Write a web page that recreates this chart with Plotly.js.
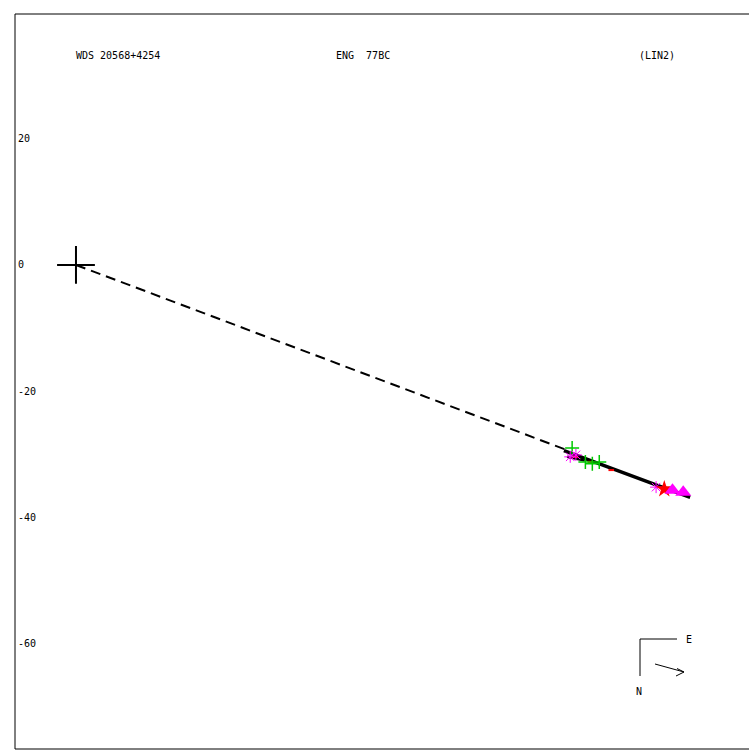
<!DOCTYPE html>
<html>
<head>
<meta charset="utf-8">
<script src="https://cdn.plot.ly/plotly-3.0.1.min.js"></script>
<style>html,body{margin:0;padding:0;background:#fff}#chart{width:750px;height:750px}</style>
</head>
<body>
<div id="chart"></div>
<script>
// ---- data (offsets) ----
const primaryX = [0];
const primaryY = [0];

const nodeLineX = [0, 77.7];          // dashed line from primary to orbit arc start
const nodeLineY = [0, -29.3];

const orbitX = [77.3, 82.0, 87.0, 92.0, 97.3];   // computed orbit arc (thick black)
const orbitY = [-29.4, -31.2, -33.0, -34.9, -36.8];

const orbitX2 = [77.8, 80.6];                      // second short O-C strand
const orbitY2 = [-30.4, -31.0];

const greenX = [78.6, 80.7, 81.8, 82.9];          // micrometer measures (+)
const greenY = [-29.0, -31.2, -31.5, -31.2];

const asterX = [78.3, 79.2, 91.9];                // photographic measures (*)
const asterY = [-30.4, -30.1, -35.2];

const starX = [93.2];                             // red star measure
const starY = [-35.5];

const triX = [94.5, 96.2];                        // speckle measures (triangles)
const triY = [-35.7, -36.0];

const redX = [79.1, 81.5, 84.8];                  // small red O-C residuals
const redY = [-30.4, -31.2, -32.5];

const yTickVals = [20, 0, -20, -40, -60];
const yTickText = ["20", "0", "-20", "-40", "-60"];

const headerTexts = ["WDS 20568+4254", "ENG\u00a0\u00a077BC", "(LIN2)"];

// ---- layout helpers ----
const W = 750, H = 750, L = 15, T = 14, R = 1, B = 1;
const pw = W - L - R, ph = H - T - B;
const px = x => (x - L) / pw;
const py = y => (H - B - y) / ph;

const font = {family: "DejaVu Sans Mono, monospace", size: 10, color: "#000"};

const traces = [
  {x: nodeLineX, y: nodeLineY, mode: "lines", line: {color: "#000", width: 2, dash: "10px,6px"}, hoverinfo: "skip"},
  {x: orbitX, y: orbitY, mode: "lines", line: {color: "#000", width: 3.5}, hoverinfo: "skip"},
  {x: orbitX2, y: orbitY2, mode: "lines", line: {color: "#000", width: 2.5}, hoverinfo: "skip"},
  {x: redX, y: redY, mode: "markers", marker: {symbol: "line-ew-open", size: 4, color: "#ff0000", line: {color: "#ff0000", width: 2}}, hoverinfo: "skip"},
  {x: greenX, y: greenY, mode: "markers", marker: {symbol: "cross-thin-open", size: 10, color: "#00c800", line: {color: "#00c800", width: 1.5}}, hoverinfo: "skip"},
  {x: asterX, y: asterY, mode: "markers", marker: {symbol: "asterisk-open", size: 10, color: "#ff00ff", line: {color: "#ff00ff", width: 1}}, hoverinfo: "skip"},
  {x: starX, y: starY, mode: "markers", marker: {symbol: "star", size: 13, color: "#ff0000", line: {width: 0}}, hoverinfo: "skip"},
  {x: triX, y: triY, mode: "markers", marker: {symbol: "triangle-up", size: 14, color: "#ff00ff", line: {width: 0}}, hoverinfo: "skip"},
  {x: primaryX, y: primaryY, mode: "markers", marker: {symbol: "cross-thin-open", size: 27, color: "#000", line: {color: "#000", width: 2}}, hoverinfo: "skip"}
];

const shapes = [
  // frame
  {type: "line", xref: "paper", yref: "paper", x0: 0, x1: 0, y0: 0, y1: 1, line: {color: "#000", width: 1}},
  {type: "line", xref: "paper", yref: "paper", x0: 0, x1: 1, y0: 1, y1: 1, line: {color: "#000", width: 1}},
  {type: "line", xref: "paper", yref: "paper", x0: 0, x1: 1, y0: 0, y1: 0, line: {color: "#000", width: 1}},
  // compass
  {type: "line", xref: "paper", yref: "paper", x0: px(640), x1: px(677), y0: py(639), y1: py(639), line: {color: "#000", width: 1}},
  {type: "line", xref: "paper", yref: "paper", x0: px(640), x1: px(640), y0: py(639), y1: py(676), line: {color: "#000", width: 1}},
  // motion arrow
  {type: "line", xref: "paper", yref: "paper", x0: px(655), x1: px(684), y0: py(664), y1: py(672), line: {color: "#000", width: 1}},
  {type: "line", xref: "paper", yref: "paper", x0: px(677), x1: px(684), y0: py(668.5), y1: py(672), line: {color: "#000", width: 1}},
  {type: "line", xref: "paper", yref: "paper", x0: px(676), x1: px(684), y0: py(676), y1: py(672), line: {color: "#000", width: 1}}
];

const annotations = [
  {text: headerTexts[0], x: px(74), y: py(55)},
  {text: headerTexts[1], x: px(334), y: py(55)},
  {text: headerTexts[2], x: px(637), y: py(55)},
  {text: "E", x: px(684), y: py(639)},
  {text: "N", x: px(634), y: py(691)}
].map(a => Object.assign({xref: "paper", yref: "paper", xanchor: "left", yanchor: "middle", showarrow: false, font: font}, a));

const layout = {
  width: W, height: H,
  margin: {l: L, r: R, t: T, b: B, pad: 0},
  paper_bgcolor: "#fff", plot_bgcolor: "#fff",
  showlegend: false,
  xaxis: {range: [-9.66, 106.62], showgrid: false, zeroline: false, showticklabels: false, ticks: "", showline: false, fixedrange: true},
  yaxis: {range: [-76.69, 39.76], showgrid: false, zeroline: false, tickvals: yTickVals, ticktext: yTickText,
          ticklabelposition: "inside", ticks: "", showline: false, tickfont: font, fixedrange: true},
  shapes: shapes,
  annotations: annotations
};

Plotly.newPlot("chart", traces, layout, {staticPlot: true, displayModeBar: false});
</script>
</body>
</html>
